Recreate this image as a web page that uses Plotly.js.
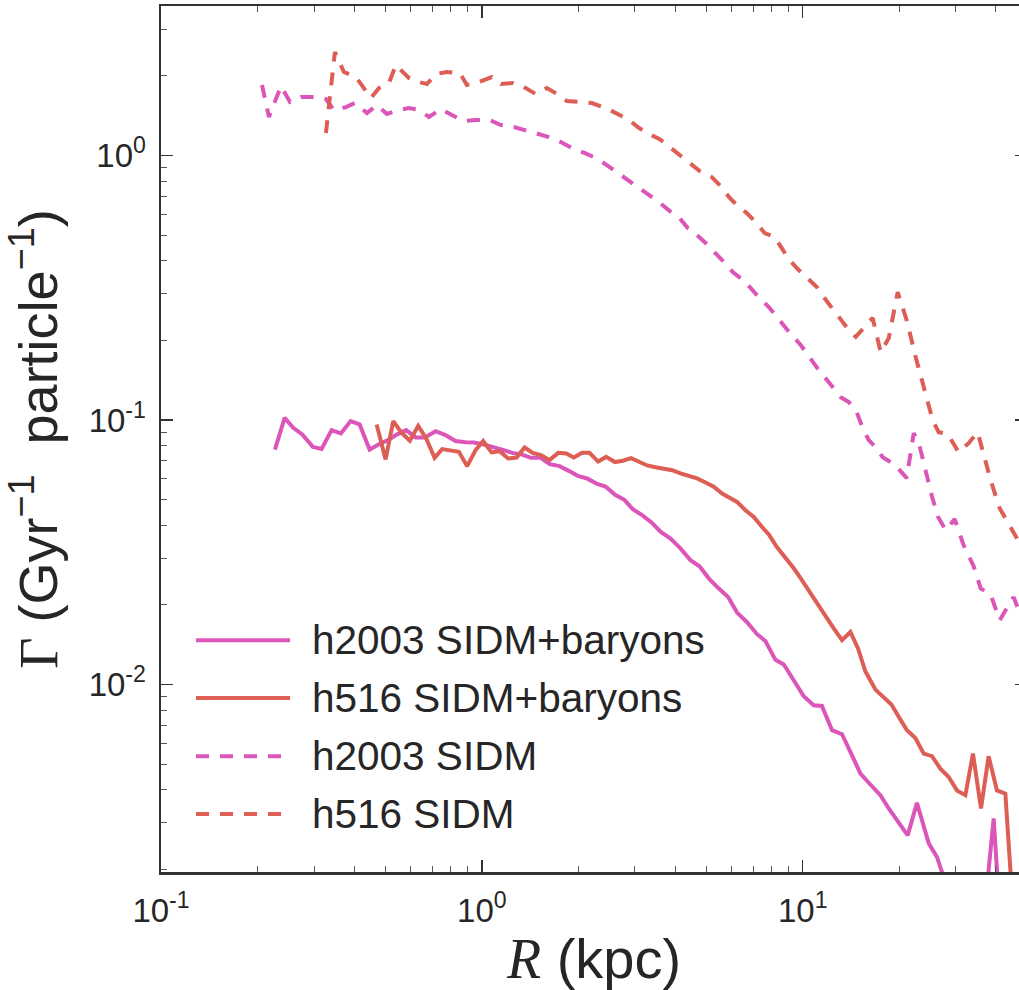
<!DOCTYPE html>
<html><head><meta charset="utf-8">
<script src="https://cdn.plot.ly/plotly-3.0.1.min.js"></script>
<style>html,body{margin:0;padding:0;overflow:hidden;background:#fff}</style>
</head><body><div id="chart" style="width:1040px;height:990px"></div>
<script>
// ---- data ----
const seriesNames = ['h2003 SIDM+baryons', 'h516 SIDM+baryons', 'h2003 SIDM', 'h516 SIDM'];

const h2003_bary_R = [0.2265,0.2428,0.2583,0.2755,0.2975,0.3167,0.3401,0.3636,0.3899,0.4159,
  0.4468,0.4777,0.5096,0.5446,0.5809,0.6216,0.6643,0.7174,0.7706,0.8280,
  0.8897,0.9443,1.014,1.082,1.157,1.243,1.329,1.421,1.524,1.628,
  1.746,1.866,1.991,2.128,2.277,2.429,2.602,2.780,2.954,3.158,
  3.379,3.604,3.872,4.159,4.469,4.767,5.095,5.445,5.853,6.242,
  6.707,7.205,7.651,8.222,8.728,9.376,10.07,10.82,11.48,12.34,
  13.26,14.24,15.13,16.25,17.46,18.54,19.91,21.24,22.70,24.70,
  26.20,28.10,29.97,32.2,34.3,36.9,39.36,42.3];
const h2003_bary_G = [0.0773,0.1018,0.0934,0.0882,0.0791,0.0777,0.0915,0.0889,0.0990,0.0962,
  0.0773,0.0810,0.0839,0.0882,0.0915,0.0859,0.0859,0.0907,0.0876,0.0832,
  0.0824,0.0822,0.0808,0.0787,0.0773,0.0751,0.0741,0.0719,0.0719,0.0681,
  0.0669,0.0642,0.0615,0.0601,0.0575,0.0560,0.0521,0.0499,0.0460,0.0437,
  0.0410,0.0378,0.0356,0.0327,0.0295,0.0280,0.0252,0.0232,0.0214,0.0187,
  0.0172,0.0155,0.0146,0.0124,0.0119,0.01038,0.00903,0.00835,0.00830,0.00672,
  0.00649,0.00540,0.00461,0.00419,0.00382,0.00340,0.00302,0.00269,0.00357,0.00251,
  0.00223,0.00173,0.0015,0.0013,0.0012,0.0014,0.00312,0.0008];

const h516_bary_R = [0.4699,0.5012,0.5294,0.5623,0.5966,0.6333,0.6706,0.7123,0.7520,0.7990,
  0.8479,0.9000,0.9558,1.0094,1.072,1.135,1.208,1.283,1.359,1.441,
  1.530,1.625,1.729,1.831,1.935,2.053,2.165,2.303,2.439,2.597,
  2.750,2.919,3.085,3.273,3.476,3.690,3.915,4.159,4.414,4.685,
  4.977,5.282,5.606,5.955,6.242,6.630,7.036,7.468,7.839,8.317,
  8.834,9.376,9.835,10.44,11.08,11.77,12.49,13.26,14.08,14.87,
  15.68,16.85,17.75,18.90,20.01,21.13,22.44,23.83,25.28,26.85,
  28.50,30.25,32.13,33.93,35.94,37.96,40.30,42.81,45.42];
const h516_bary_G = [0.0962,0.0709,0.0990,0.0894,0.0834,0.0950,0.0851,0.0719,0.0776,0.0769,
  0.0758,0.0669,0.0769,0.0832,0.0754,0.0762,0.0715,0.0721,0.0787,0.0751,
  0.0736,0.0705,0.0751,0.0747,0.0721,0.0751,0.0751,0.0696,0.0725,0.0693,
  0.0701,0.0717,0.0696,0.0673,0.0663,0.0652,0.0646,0.0628,0.0615,0.0601,
  0.0580,0.0559,0.0527,0.0507,0.0490,0.0456,0.0430,0.0394,0.0369,0.0330,
  0.0302,0.0275,0.0253,0.0226,0.0204,0.0180,0.0163,0.0147,0.0158,0.0137,
  0.0112,0.00957,0.00898,0.00840,0.00748,0.00672,0.00628,0.00548,0.00536,0.00481,
  0.00447,0.00398,0.00382,0.00548,0.00340,0.00536,0.00398,0.00387,0.0013];

const h2003_sidm_R = [0.2064,0.2170,0.2365,0.2523,0.2730,0.2997,0.3266,0.3459,0.3771,0.4022,
  0.4384,0.4709,0.5059,0.5513,0.5923,0.6409,0.6838,0.7454,0.8065,0.8789,
  0.9579,1.059,1.146,1.258,1.361,1.494,1.617,1.762,1.907,2.094,
  2.265,2.452,2.634,2.871,3.085,3.313,3.560,3.853,4.110,4.383,
  4.676,5.022,5.358,5.715,6.051,6.456,6.887,7.294,7.839,8.299,
  8.728,9.242,9.858,10.36,11.06,11.71,12.31,13.13,13.91,14.73,
  15.38,16.06,16.89,17.75,18.80,19.91,21.09,22.18,23.14,24.34,
  25.23,26.34,27.90,29.75,31.74,34.10,35.86,38.52,41.09,45.42,48.46];
const h2003_sidm_G = [1.844,1.396,1.828,1.591,1.661,1.661,1.633,1.483,1.522,1.577,
  1.445,1.549,1.433,1.483,1.509,1.483,1.396,1.496,1.420,1.348,
  1.360,1.360,1.302,1.279,1.246,1.204,1.173,1.123,1.066,1.020,
  0.977,0.919,0.865,0.807,0.759,0.708,0.666,0.616,0.584,0.531,
  0.500,0.462,0.427,0.392,0.362,0.341,0.315,0.291,0.267,0.245,
  0.226,0.209,0.192,0.176,0.158,0.145,0.135,0.122,0.117,0.107,
  0.0931,0.0839,0.0789,0.0723,0.0693,0.0652,0.0603,0.0892,0.0796,0.0618,
  0.0519,0.0433,0.0383,0.0422,0.0336,0.0280,0.0231,0.0219,0.0175,0.0214,0.0175];

const h516_sidm_R = [0.3266,0.3483,0.3716,0.4050,0.4510,0.4777,0.5131,0.5396,0.5923,0.6363,
  0.6740,0.7189,0.7780,0.8542,0.8980,0.9787,1.074,1.146,1.249,1.352,
  1.473,1.594,1.738,1.840,2.049,2.201,2.434,2.616,2.850,3.062,
  3.313,3.585,3.853,4.169,4.478,4.777,5.206,5.554,5.884,6.231,
  6.692,7.137,7.613,8.180,8.602,9.045,9.648,10.29,11.06,11.63,
  12.31,13.04,13.71,14.63,16.52,17.50,18.54,19.77,21.09,22.49,
  24.16,25.41,26.53,28.30,30.62,32.89,35.09,37.16,38.52,41.09,
  46.76,49.86];
const h516_sidm_G = [1.214,2.458,2.065,1.977,1.647,1.797,1.876,2.194,1.960,1.893,
  1.860,2.029,2.065,2.047,1.844,1.893,1.977,1.860,1.876,1.812,
  1.705,1.797,1.690,1.604,1.591,1.577,1.509,1.445,1.372,1.279,
  1.204,1.152,1.075,1.003,0.935,0.872,0.828,0.765,0.696,0.649,
  0.605,0.560,0.508,0.491,0.446,0.405,0.372,0.347,0.318,0.291,
  0.267,0.245,0.224,0.206,0.243,0.180,0.204,0.304,0.238,0.173,
  0.124,0.0998,0.0899,0.0884,0.0755,0.0817,0.0899,0.0687,0.0592,0.0464,
  0.0351,0.0308];

const xTickVals = [0.1, 1, 10];
const xTickText = ['10<sup>-1</sup>', '10<sup>0</sup>', '10<sup>1</sup>'];
const yTickVals = [0.01, 0.1, 1];
const yTickText = ['10<sup>-2</sup>', '10<sup>-1</sup>', '10<sup>0</sup>'];
const xMinorVals = [0.2,0.3,0.4,0.5,0.6,0.7,0.8,0.9,2,3,4,5,6,7,8,9,20,30,40,50];
const yMinorVals = [0.002,0.003,0.004,0.005,0.006,0.007,0.008,0.009,0.02,0.03,0.04,0.05,0.06,0.07,0.08,0.09,0.2,0.3,0.4,0.5,0.6,0.7,0.8,0.9,2,3];

// ---- styles ----
const PINK = '#dc55b8';
const RED = '#dd5e55';
const DASH = '13px,11px';
const FONT = 'Liberation Sans, Arial, sans-serif';
const TXT = '#262626';

const styles = [
  {color: PINK, dash: 'solid'},
  {color: RED, dash: 'solid'},
  {color: PINK, dash: DASH},
  {color: RED, dash: DASH}
];
const xs = [h2003_bary_R, h516_bary_R, h2003_sidm_R, h516_sidm_R];
const ys = [h2003_bary_G, h516_bary_G, h2003_sidm_G, h516_sidm_G];

const traces = seriesNames.map((n, i) => ({
  type: 'scatter', mode: 'lines', name: n, x: xs[i], y: ys[i],
  line: {color: styles[i].color, width: 4, dash: styles[i].dash},
  showlegend: false, hoverinfo: 'x+y+name'
}));

// manual legend (long line samples like the reference)
const legY = [0.2675, 0.2008, 0.1338, 0.0670];
const shapes = seriesNames.map((n, i) => ({
  type: 'line', xref: 'paper', yref: 'paper',
  x0: 0.0405, x1: 0.1490, y0: legY[i], y1: legY[i],
  line: {color: styles[i].color, width: 4, dash: styles[i].dash}
}));
const annotations = seriesNames.map((n, i) => ({
  xref: 'paper', yref: 'paper', x: 0.1720, y: legY[i],
  xanchor: 'left', yanchor: 'middle', showarrow: false, text: n,
  font: {family: FONT, size: 40.5, color: TXT}
}));

const axisBase = {
  type: 'log', showline: true, linecolor: '#333', linewidth: 2.5, mirror: 'allticks',
  ticks: 'inside', ticklen: 12, tickwidth: 1.5, tickcolor: '#333',
  showgrid: false, zeroline: false, tickmode: 'array',
  tickfont: {family: FONT, size: 33, color: TXT}
};

const layout = {
  width: 1040, height: 990,
  margin: {l: 161, r: 13, t: 6, b: 118},
  paper_bgcolor: '#fff', plot_bgcolor: '#fff',
  font: {family: FONT, color: TXT},
  showlegend: false,
  xaxis: Object.assign({}, axisBase, {
    range: [-1, Math.log10(50)],
    tickvals: xTickVals, ticktext: xTickText,
    ticklabelstandoff: 8,
    minor: {ticks: 'inside', ticklen: 6, tickwidth: 1, tickcolor: '#555', tickmode: 'array', tickvals: xMinorVals},
    title: {text: '<span style="font-family:Liberation Serif"><i>R</i></span> (kpc)', font: {family: FONT, size: 56, color: TXT}, standoff: 8}
  }),
  yaxis: Object.assign({}, axisBase, {
    range: [-2.7085, 0.5645],
    tickvals: yTickVals, ticktext: yTickText,
    ticklabelstandoff: 6,
    minor: {ticks: 'inside', ticklen: 6, tickwidth: 1, tickcolor: '#555', tickmode: 'array', tickvals: yMinorVals},
    title: {text: '<span style="font-family:Liberation Serif">Γ</span> (Gyr<sup>−1</sup>&nbsp;&nbsp;particle<sup>−1</sup>)', font: {family: FONT, size: 54, color: TXT}, standoff: 20}
  }),
  shapes: shapes,
  annotations: annotations
};

Plotly.newPlot('chart', traces, layout, {displayModeBar: false, responsive: false, staticPlot: true});
</script></body></html>
